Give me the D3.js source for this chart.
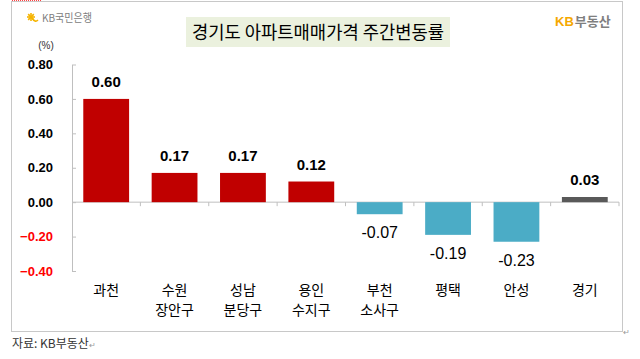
<!DOCTYPE html>
<html>
<head>
<meta charset="utf-8">
<script src="https://cdn.jsdelivr.net/npm/d3@7"></script>
<style>
  html, body { margin: 0; padding: 0; background: #fff; }
  svg { display: block; }
</style>
</head>
<body>
<svg id="chart" width="640" height="359"></svg>
<script>
// ---- data ----
const categories = ["과천", "수원\n장안구", "성남\n분당구", "용인\n수지구", "부천\n소사구", "평택", "안성", "경기"];
const values = [0.60, 0.17, 0.17, 0.12, -0.07, -0.19, -0.23, 0.03];
const valueLabels = ["0.60", "0.17", "0.17", "0.12", "-0.07", "-0.19", "-0.23", "0.03"];
const barKinds = ["up", "up", "up", "up", "down", "down", "down", "total"];
const yTicks = [-0.4, -0.2, 0, 0.2, 0.4, 0.6, 0.8];
const titleText = "경기도 아파트매매가격 주간변동률";
const unitText = "(%)";
const sourceText = "자료: KB부동산";

const colors = { up: "#C00000", down: "#4BACC6", total: "#595959" };
const axisColor = "#BFBFBF";
const cjk = "'Noto Sans CJK KR', 'Noto Sans', sans-serif";
const latin = "'Liberation Sans', Arial, sans-serif";

const svg = d3.select("#chart");

// frame
svg.append("rect").attr("x", 11.5).attr("y", 1.5).attr("width", 611).attr("height", 330)
  .attr("fill", "none").attr("stroke", "#C8C8C8").attr("stroke-width", 1);
svg.append("line").attr("x1", 12).attr("x2", 41).attr("y1", 0.5).attr("y2", 0.5)
  .attr("stroke", "#FF4040").attr("stroke-dasharray", "1,1");
svg.append("text").attr("x", 623).attr("y", 335).attr("font-size", 8).attr("fill", "#999")
  .attr("font-family", latin).text("↵");

// scales
const x = d3.scaleBand().domain(categories).range([72, 619]).paddingInner(0.33).paddingOuter(0.165);
const y = d3.scaleLinear().domain([-0.4, 0.8]).range([271, 64.5]);

// y axis
const yAxis = d3.axisLeft(y).tickValues(yTicks).tickFormat(d3.format(".2f"))
  .tickSizeInner(-4).tickSizeOuter(0).tickPadding(19);
const gy = svg.append("g").attr("transform", "translate(72,0)").call(yAxis);
gy.select(".domain").attr("stroke", axisColor);
gy.selectAll(".tick line").attr("stroke", axisColor);
gy.selectAll(".tick text")
  .attr("font-family", latin).attr("font-size", 13).attr("font-weight", "bold")
  .attr("fill", d => d < 0 ? "#FF0000" : "#000");

// zero line with category ticks
const x0 = x.range()[0], step = x.step();
svg.append("line").attr("x1", x0).attr("x2", x.range()[1]).attr("y1", y(0)).attr("y2", y(0))
  .attr("stroke", axisColor);
svg.selectAll(".xtick").data(d3.range(1, categories.length + 1)).enter().append("line")
  .attr("x1", i => x0 + i * step).attr("x2", i => x0 + i * step)
  .attr("y1", y(0)).attr("y2", y(0) + 4).attr("stroke", axisColor);

// bars
svg.selectAll(".bar").data(categories).enter().append("rect")
  .attr("x", d => x(d))
  .attr("width", x.bandwidth())
  .attr("y", (d, i) => y(Math.max(0, values[i])))
  .attr("height", (d, i) => Math.abs(y(values[i]) - y(0)))
  .attr("fill", (d, i) => colors[barKinds[i]]);

// value labels
svg.selectAll(".vlabel").data(categories).enter().append("text")
  .attr("x", d => x(d) + x.bandwidth() / 2)
  .attr("y", (d, i) => values[i] >= 0 ? y(values[i]) - 12 : y(values[i]) + 24)
  .attr("text-anchor", "middle")
  .attr("font-family", latin)
  .attr("font-size", (d, i) => values[i] >= 0 ? 15 : 16)
  .attr("font-weight", (d, i) => values[i] >= 0 ? "bold" : "normal")
  .attr("fill", "#000")
  .text((d, i) => valueLabels[i]);

// category labels (one text per line)
categories.forEach(c => {
  c.split("\n").forEach((s, j) => {
    svg.append("text")
      .attr("x", x(c) + x.bandwidth() / 2)
      .attr("y", 295 + j * 20)
      .attr("text-anchor", "middle").attr("font-family", cjk).attr("font-size", 14).attr("fill", "#000")
      .text(s);
  });
});

// title
svg.append("rect").attr("x", 186).attr("y", 17).attr("width", 264).attr("height", 30).attr("fill", "#EBF1DE");
svg.append("text").attr("x", 318).attr("y", 39).attr("text-anchor", "middle")
  .attr("font-family", cjk).attr("font-size", 18).attr("fill", "#000")
  .attr("textLength", 252).attr("lengthAdjust", "spacingAndGlyphs").text(titleText);

// unit
svg.append("text").attr("x", 46).attr("y", 49).attr("text-anchor", "middle")
  .attr("font-family", latin).attr("font-size", 10).attr("fill", "#333").text(unitText);

// KB Kookmin Bank logo (top-left)
const lg = svg.append("g").attr("transform", "translate(31,17)");
[0, 45, 90, 135].forEach(a => {
  lg.append("line").attr("x1", -4).attr("x2", 4).attr("y1", 0).attr("y2", 0)
    .attr("transform", `rotate(${a})`).attr("stroke", "#F5B400").attr("stroke-width", 1.6);
});
lg.append("path").attr("d", "M1,1 Q4,6 7,3").attr("fill", "none").attr("stroke", "#F5B400").attr("stroke-width", 1.5);
svg.append("text").attr("x", 42).attr("y", 21.5).attr("font-family", cjk).attr("font-size", 11)
  .attr("fill", "#808080").attr("textLength", 50).attr("lengthAdjust", "spacingAndGlyphs").text("KB국민은행");

// KB부동산 logo (top-right)
const kb = svg.append("text").attr("x", 555).attr("y", 26).attr("font-size", 13).attr("font-weight", "bold");
kb.append("tspan").attr("font-family", latin).attr("fill", "#F5A800").text("KB");
kb.append("tspan").attr("font-family", cjk).attr("fill", "#7F7F7F").attr("dx", 1).text("부동산");

// source
svg.append("text").attr("x", 12).attr("y", 348).attr("font-family", cjk).attr("font-size", 12)
  .attr("fill", "#333").text(sourceText)
  .append("tspan").attr("font-size", 8).attr("fill", "#999").text("↵");
</script>
</body>
</html>
